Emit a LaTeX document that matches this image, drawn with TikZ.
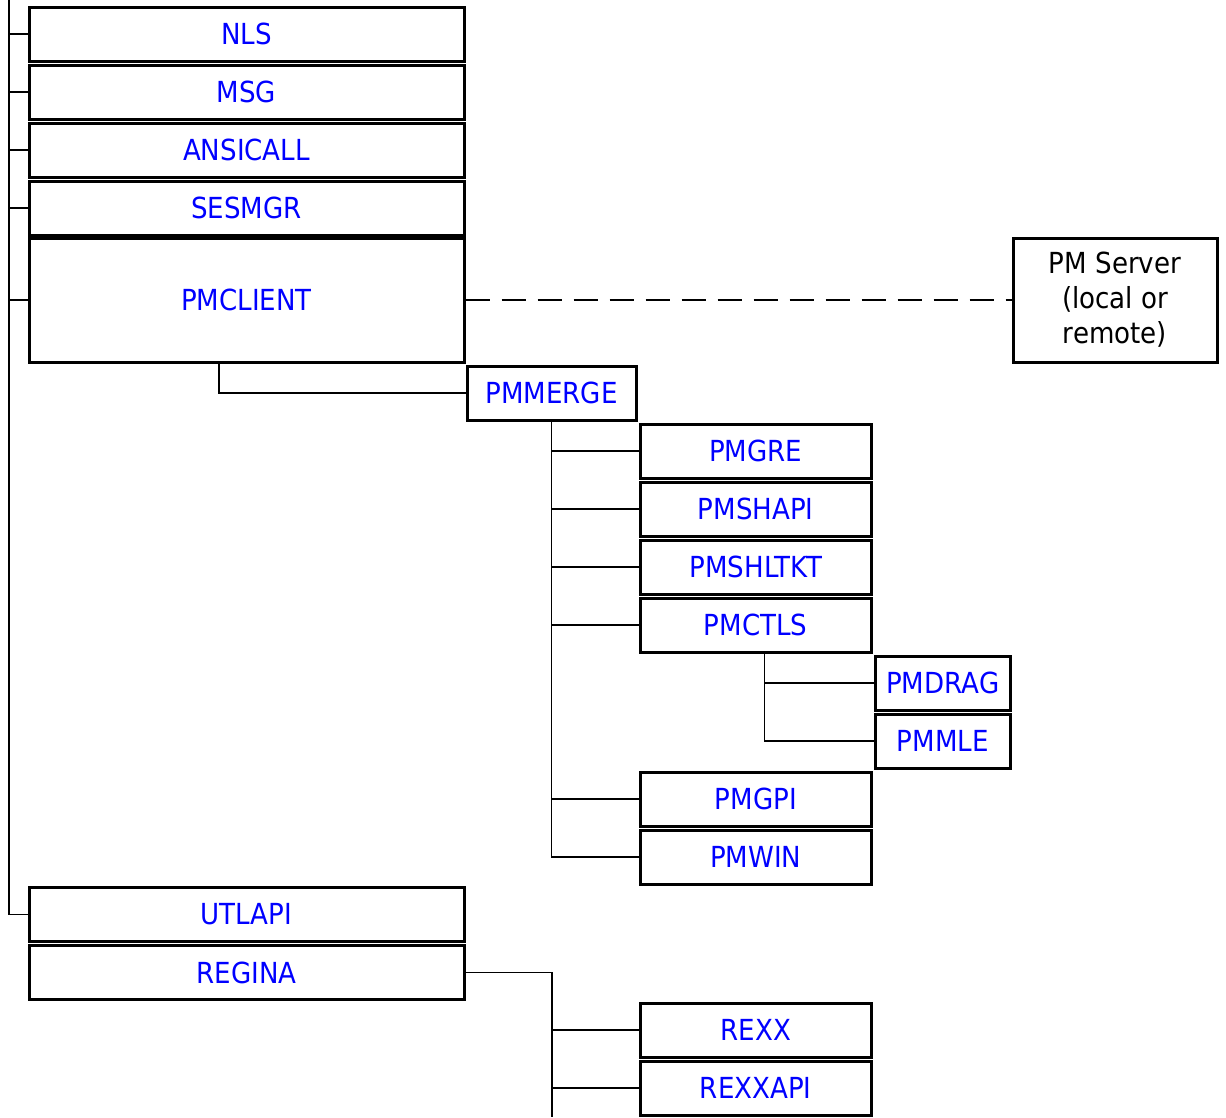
\documentclass[tikz,border=0pt]{standalone}
\usepackage{fontspec}
\setmainfont{DejaVu Sans}[FakeStretch=0.9]
\usepackage{tikz}

\begin{document}
\begin{tikzpicture}[
    x=1pt, y=-1pt,
    mod/.style={draw, line width=3pt, inner sep=0pt, text=blue,
        font=\fontsize{29}{35}\selectfont, minimum height=54pt},
    colone/.style={mod, minimum width=435pt},
    coltwo/.style={mod, minimum width=231.5pt},
    colthree/.style={mod, minimum width=134.5pt},
    link/.style={line width=1.3pt},
    remote/.style={dash pattern=on 24pt off 12pt, line width=1.3pt}
    ]
    \useasboundingbox (0,0) rectangle (1226,1117);
    \node[colone] (nls) at (246.5,34) {NLS};
    \node[colone] (msg) at (246.5,92) {MSG};
    \node[colone] (ansicall) at (246.5,150) {ANSICALL};
    \node[colone] (sesmgr) at (246.5,208) {SESMGR};
    \node[colone, minimum height=124pt] (pmclient) at (246.5,300) {PMCLIENT};
    \node[colone] (utlapi) at (246.5,914.5) {UTLAPI};
    \node[colone] (regina) at (246.5,972.5) {REGINA};
    \node[mod, minimum width=169pt] (pmmerge) at (551.5,393) {PMMERGE};
    \node[coltwo] (pmgre) at (755.75,451) {PMGRE};
    \node[coltwo] (pmshapi) at (755.75,509) {PMSHAPI};
    \node[coltwo] (pmshltkt) at (755.75,567) {PMSHLTKT};
    \node[coltwo] (pmctls) at (755.75,625) {PMCTLS};
    \node[colthree] (pmdrag) at (942.75,683) {PMDRAG};
    \node[colthree] (pmmle) at (942.75,741) {PMMLE};
    \node[coltwo] (pmgpi) at (755.75,799) {PMGPI};
    \node[coltwo] (pmwin) at (755.75,857) {PMWIN};
    \node[coltwo] (rexx) at (755.75,1030) {REXX};
    \node[coltwo] (rexxapi) at (755.75,1088) {REXXAPI};
    \node[draw, line width=3pt, align=center, minimum width=204pt, minimum height=124pt,
        inner sep=0pt, font=\fontsize{29}{35}\selectfont] (pmserver) at (1115,300)
        {PM Server\\(local or\\remote)};

    \coordinate (trunk) at (9,0);
    \coordinate (rexxbus) at (552,1117);
    \draw[link] (trunk) |- (utlapi.west);
    \draw[link] (trunk |- nls.west) -- (nls.west);
    \draw[link] (trunk |- msg.west) -- (msg.west);
    \draw[link] (trunk |- ansicall.west) -- (ansicall.west);
    \draw[link] (trunk |- sesmgr.west) -- (sesmgr.west);
    \draw[link] (trunk |- pmclient.west) -- (pmclient.west);
    \draw[remote] (pmclient.east) -- (pmserver.west);
    \draw[link] ([xshift=-27.5pt]pmclient.south) |- (pmmerge.west);
    \draw[link] (pmmerge.south) |- (pmgre.west);
    \draw[link] (pmmerge.south) |- (pmshapi.west);
    \draw[link] (pmmerge.south) |- (pmshltkt.west);
    \draw[link] (pmmerge.south) |- (pmctls.west);
    \draw[link] (pmmerge.south) |- (pmgpi.west);
    \draw[link] (pmmerge.south) |- (pmwin.west);
    \draw[link] ([xshift=8.5pt]pmctls.south) |- (pmdrag.west);
    \draw[link] ([xshift=8.5pt]pmctls.south) |- (pmmle.west);
    \draw[link] (regina.east) -| (rexxbus);
    \draw[link] (rexxbus |- rexx.west) -- (rexx.west);
    \draw[link] (rexxbus |- rexxapi.west) -- (rexxapi.west);
\end{tikzpicture}
\end{document}
